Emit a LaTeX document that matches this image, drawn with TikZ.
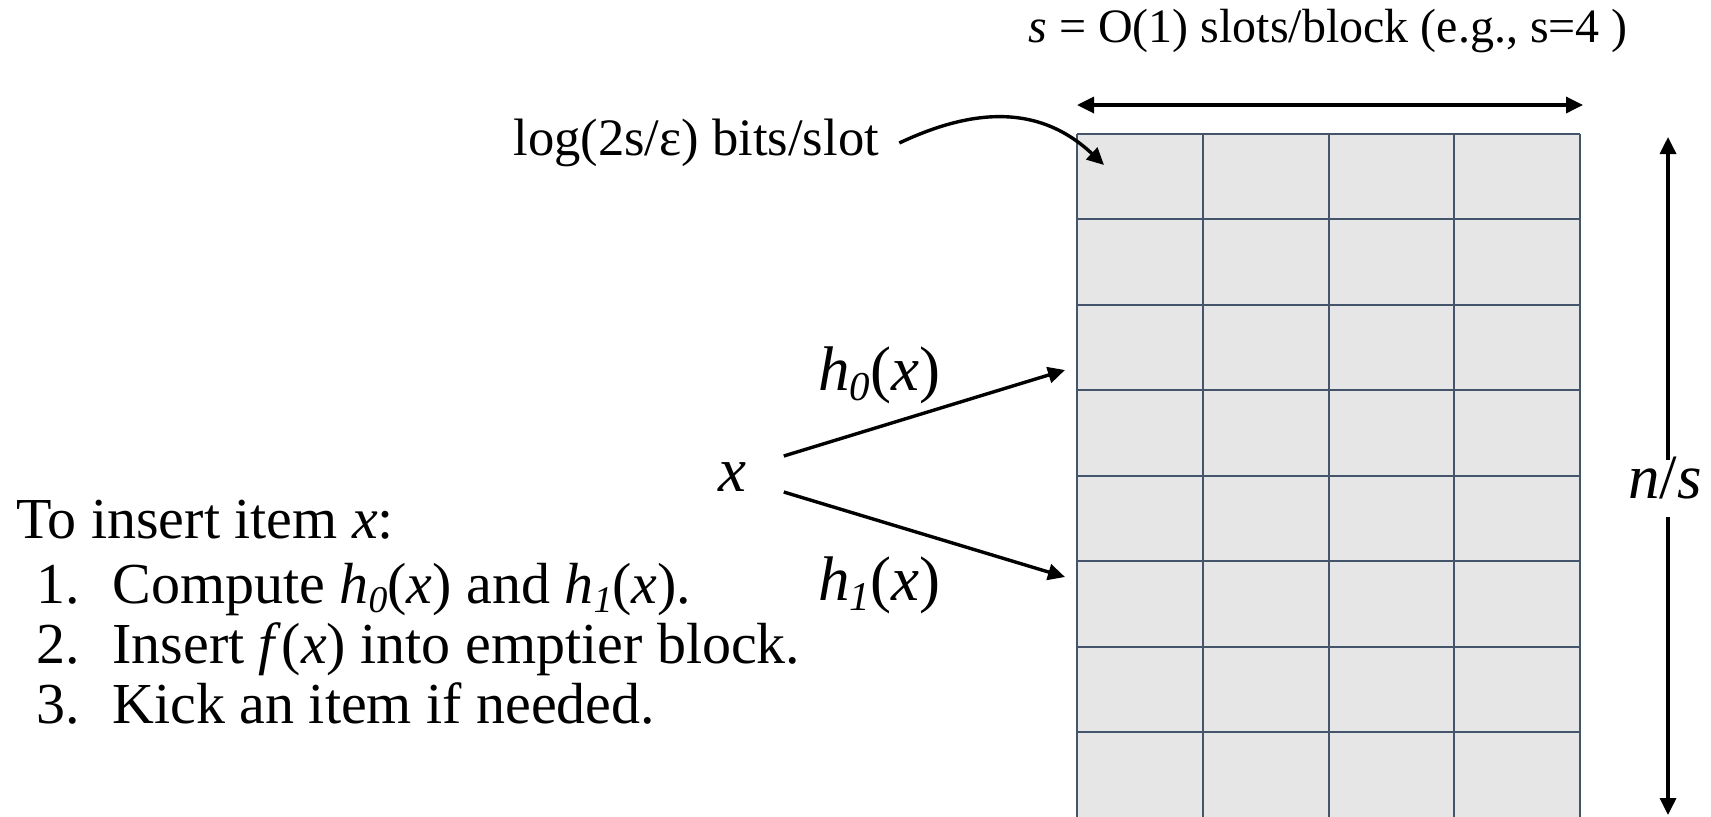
\documentclass[tikz,border=0pt]{standalone}
\usepackage{fontspec}
\setmainfont{LiberationSerif}[
  Extension=.ttf,
  UprightFont=*-Regular,
  ItalicFont=*-Italic,
  BoldFont=*-Bold,
  BoldItalicFont=*-BoldItalic]
\usetikzlibrary{arrows.meta,calc}

\definecolor{cellgray}{RGB}{230,230,230}
\definecolor{gridline}{RGB}{68,84,106}

% font sizes (1 unit = 0.5pt)
\newcommand\fsList{\fontsize{29}{34}\selectfont}
\newcommand\fsLog{\fontsize{26.3}{31}\selectfont}
\newcommand\fsTop{\fontsize{24}{29}\selectfont}
\newcommand\fsBig{\fontsize{31.5}{37}\selectfont}
% lowered italic subscript
\newcommand\sbx[1]{\raisebox{-0.16em}{\scalebox{0.65}{\textit{#1}}}}

\tikzset{
  lbl/.style={inner sep=0pt, anchor=base west},
  tipA/.tip={Triangle[length=8.5pt,width=8pt]},
  conn/.style={line width=1.7pt, -tipA},
  dbl/.style={line width=1.7pt, tipA-tipA},
}

\begin{document}
\begin{tikzpicture}[x=0.5pt,y=-0.5pt]
\useasboundingbox (0,0) rectangle (1711,816);
\clip (0,0) rectangle (1711,816);

% block table: 4 slots per block, 8 blocks
\fill[cellgray] (1077,133.7) rectangle (1580,817.7);
\foreach \c in {0,...,4}
  \draw[gridline, line width=1pt] (1077+125.75*\c,133.7) -- (1077+125.75*\c,817.7);
\foreach \r in {0,...,7}
  \draw[gridline, line width=1pt] (1077,133.7+85.5*\r) -- (1580,133.7+85.5*\r);

% width of a block
\node[lbl, font=\fsTop] (slabel) at (1028,42)
  {\textit{s} = O(1) slots/block (e.g., s=4 )};
\coordinate (wl) at (1077,105);
\coordinate (wr) at (1583,105);
\draw[dbl] (wl) -- (wr);

% bits per slot
\node[lbl, font=\fsLog] (logtxt) at (513,155) {log(2s/ε) bits/slot};
\coordinate (slot) at (1104,165);
\draw[conn] ($(logtxt.base east)+(20,-12)$) .. controls (965,112) and (1035,100) .. (slot);

% number of blocks
\coordinate (vtop) at (1668,137);
\coordinate (vbot) at (1668,815);
\node[inner sep=0pt, anchor=base, text height=19pt, text depth=9.5pt, font=\fsBig]
  (ns) at (1665,498) {\textit{n}/\textit{s}};
\draw[conn] (ns.north -| vtop) -- (vtop);
\draw[conn] (ns.south -| vbot) -- (vbot);

% the two candidate blocks
\node[lbl, font=\fsBig] (xin) at (718,491) {\textit{x}};
\coordinate (t0) at (1065,370);
\coordinate (t1) at (1065,577);
\draw[conn] ($(xin.base east)+(37,-35)$) -- (t0);
\draw[conn] ($(xin.base east)+(37,1)$) -- (t1);
\node[lbl, font=\fsBig] (h0) at (818,390) {\textit{h}\sbx{0}(\textit{x})};
\node[lbl, font=\fsBig] (h1) at (818,600) {\textit{h}\sbx{1}(\textit{x})};

% insertion procedure
\node[lbl, font=\fsList] (step0) at (16,538) {To insert item \textit{x}:};
\node[lbl, font=\fsList] (step1) at (36,603)
  {\makebox[38pt][l]{1.}Compute \textit{h}\sbx{0}(\textit{x}) and \textit{h}\sbx{1}(\textit{x}).};
\node[lbl, font=\fsList] (step2) at (36,663)
  {\makebox[38pt][l]{2.}Insert \textit{f}(\textit{x}) into emptier block.};
\node[lbl, font=\fsList] (step3) at (36,723)
  {\makebox[38pt][l]{3.}Kick an item if needed.};
\end{tikzpicture}
\end{document}
